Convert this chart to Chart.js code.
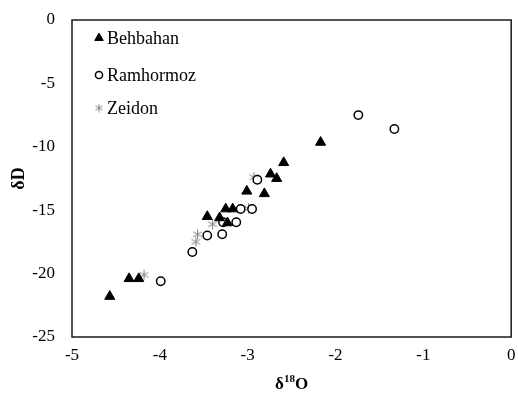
<!DOCTYPE html>
<html>
<head>
<meta charset="utf-8">
<script src="https://cdn.jsdelivr.net/npm/chart.js@4/dist/chart.umd.min.js"></script>
<style>
  html, body { margin: 0; padding: 0; background: #fff; }
  #wrap { width: 518px; height: 394px; }
</style>
</head>
<body>
<div id="wrap"><canvas id="scatterChart" width="518" height="394"></canvas></div>
<script>
// datos
const seriesNames = ['Behbahan', 'Ramhormoz', 'Zeidon'];
const behbahanX = [-4.57, -4.35, -4.24, -3.46, -3.32, -3.25, -3.17, -3.23, -3.01, -2.81, -2.74, -2.67, -2.59, -2.17];
const behbahanY = [-21.8, -20.4, -20.4, -15.5, -15.6, -14.9, -14.9, -16.0, -13.5, -13.7, -12.15, -12.5, -11.25, -9.65];
const ramhormozX = [-3.99, -3.63, -3.46, -3.29, -3.28, -3.13, -3.08, -2.95, -2.89, -1.74, -1.33];
const ramhormozY = [-20.6, -18.3, -17.0, -16.9, -15.95, -15.95, -14.9, -14.9, -12.6, -7.5, -8.6];
const zeidonX = [-4.18, -3.59, -3.57, -3.40, -2.99, -2.93];
const zeidonY = [-20.1, -17.5, -16.9, -16.1, -14.85, -12.4];
const xTicks = [-5, -4, -3, -2, -1, 0];
const yTicks = [0, -5, -10, -15, -20, -25];

const FONT = 'Liberation Serif, Times New Roman, serif';

function toPoints(xs, ys) {
    return xs.map((x, i) => ({ x: x, y: ys[i] }));
}

// asterisco de 6 brazos (como el marcador de Excel)
function makeAsterisk(size, color) {
    const c = document.createElement('canvas');
    c.width = size;
    c.height = size;
    const g = c.getContext('2d');
    const m = size / 2;
    const r = size / 2 - 0.5;
    g.strokeStyle = color;
    g.lineWidth = 1;
    g.beginPath();
    g.moveTo(m, m - r); g.lineTo(m, m + r);
    const dx = r * Math.cos(Math.PI / 6), dy = r * Math.sin(Math.PI / 6);
    g.moveTo(m - dx, m - dy); g.lineTo(m + dx, m + dy);
    g.moveTo(m - dx, m + dy); g.lineTo(m + dx, m - dy);
    g.stroke();
    return c;
}
const asterisk = makeAsterisk(11, '#7f7f7f');
const asteriskSmall = makeAsterisk(9, '#7f7f7f');

// Marco, leyenda y titulo del eje x (con superindice)
const extrasPlugin = {
    id: 'extras',
    afterDraw(chart) {
        const ctx = chart.ctx;
        const a = chart.chartArea;
        ctx.save();
        ctx.strokeStyle = '#1a1a1a';
        ctx.lineWidth = 1.5;
        ctx.strokeRect(a.left, a.top, a.right - a.left, a.bottom - a.top);

        // leyenda dentro del area
        const rows = [38, 75, 108];
        chart.data.datasets.forEach((ds, i) => {
            const y = rows[i];
            ctx.fillStyle = ds.backgroundColor;
            ctx.strokeStyle = ds.borderColor;
            ctx.lineWidth = ds.borderWidth;
            const style = i === 2 ? asteriskSmall : ds.pointStyle;
            Chart.helpers.drawPoint(ctx, {
                pointStyle: style,
                radius: ds.pointRadius * 0.85,
                borderWidth: ds.borderWidth,
                rotation: 0
            }, 99, y);
            ctx.fillStyle = '#000';
            ctx.font = '18px ' + FONT;
            ctx.textAlign = 'left';
            ctx.textBaseline = 'middle';
            ctx.fillText(ds.label, 107, y + 1);
        });

        // titulo eje x: δ18O
        const cx = (a.left + a.right) / 2;
        const by = 389;
        ctx.fillStyle = '#000';
        ctx.textBaseline = 'alphabetic';
        ctx.textAlign = 'left';
        const big = 'bold 17px ' + FONT;
        const small = 'bold 11px ' + FONT;
        ctx.font = big;
        const wd = ctx.measureText('δ').width;
        const wo = ctx.measureText('O').width;
        ctx.font = small;
        const ws = ctx.measureText('18').width;
        let x0 = cx - (wd + ws + wo) / 2;
        ctx.font = big;
        ctx.fillText('δ', x0, by);
        ctx.font = small;
        ctx.fillText('18', x0 + wd, by - 7);
        ctx.font = big;
        ctx.fillText('O', x0 + wd + ws, by);
        ctx.restore();
    }
};

const canvas = document.getElementById('scatterChart');

new Chart(canvas, {
    type: 'scatter',
    data: {
        datasets: [
            {
                label: seriesNames[0],
                data: toPoints(behbahanX, behbahanY),
                pointStyle: 'triangle',
                pointRadius: 5.8,
                backgroundColor: '#000',
                borderColor: '#000',
                borderWidth: 1
            },
            {
                label: seriesNames[1],
                data: toPoints(ramhormozX, ramhormozY),
                pointStyle: 'circle',
                pointRadius: 4.2,
                backgroundColor: '#fff',
                borderColor: '#000',
                borderWidth: 1.5
            },
            {
                label: seriesNames[2],
                data: toPoints(zeidonX, zeidonY),
                pointStyle: asterisk,
                pointRadius: 5.5,
                backgroundColor: '#7f7f7f',
                borderColor: '#7f7f7f',
                borderWidth: 1
            }
        ]
    },
    options: {
        responsive: false,
        animation: false,
        layout: { padding: { left: 9, top: 20, right: 5, bottom: 0 } },
        plugins: {
            legend: { display: false },
            tooltip: { enabled: false }
        },
        scales: {
            x: {
                type: 'linear',
                min: -5,
                max: 0,
                afterBuildTicks: (s) => { s.ticks = xTicks.map(v => ({ value: v })); },
                afterFit: (s) => { s.height = 57; s.paddingLeft = 0; s.paddingRight = 0; },
                grid: { display: false, drawTicks: false },
                border: { display: false },
                ticks: {
                    padding: 8,
                    color: '#000',
                    font: { family: FONT, size: 17 }
                },
                title: { display: false }
            },
            y: {
                type: 'linear',
                min: -25,
                max: 0,
                afterBuildTicks: (s) => { s.ticks = yTicks.map(v => ({ value: v })); },
                afterFit: (s) => { s.width = 63; s.paddingTop = 0; s.paddingBottom = 0; },
                grid: { display: false, drawTicks: false },
                border: { display: false },
                ticks: {
                    padding: 17,
                    color: '#000',
                    font: { family: FONT, size: 17 }
                },
                title: {
                    display: true,
                    text: 'δD',
                    color: '#000',
                    padding: { top: 0, bottom: 0 },
                    font: { family: FONT, size: 18, weight: 'bold' }
                }
            }
        }
    },
    plugins: [extrasPlugin]
});
</script>
</body>
</html>
